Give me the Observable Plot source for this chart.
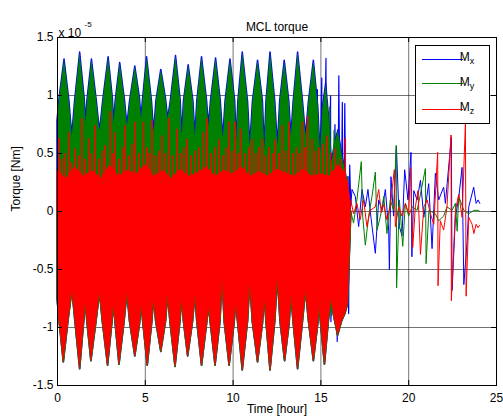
<!DOCTYPE html>
<html><head><meta charset="utf-8">
<script src="https://cdn.jsdelivr.net/npm/d3@7"></script>
<script src="https://cdn.jsdelivr.net/npm/@observablehq/plot@0.6"></script>
<style>
body{margin:0;background:#fff;font-family:"Liberation Sans",Arial,sans-serif;}
#wrap{position:relative;width:503px;height:420px;overflow:hidden;}
</style></head><body><div id="wrap"></div>
<script>
// ---- axis ticks (units of 1e-5 Nm for y) ----
const xTicks = [0, 5, 10, 15, 20, 25];
const yTicks = [-1.5, -1, -0.5, 0, 0.5, 1, 1.5];
const seriesNames = ["M", "M", "M"];
const seriesSubs = ["x", "y", "z"];
const seriesColors = ["#0000ff", "#008000", "#ff0000"];

// ---- dense part (0 - 16.7 h): envelopes ----
// upper envelope of My (green), blue shows just around it
const gTopX = [0.00,0.12,0.40,0.68,0.84,1.00,1.29,1.55,1.63,1.70,1.96,2.24,2.42,2.60,2.91,3.15,3.23,3.31,3.57,3.85,3.98,4.13,4.43,4.70,4.78,4.86,5.10,5.38,5.50,5.63,5.91,6.18,6.30,6.45,6.75,7.02,7.10,7.20,7.47,7.74,7.85,7.96,8.23,8.52,8.62,8.74,9.03,9.30,9.44,9.57,9.85,10.12,10.20,10.30,10.55,10.85,10.98,11.13,11.42,11.70,11.80,11.90,12.13,12.40,12.55,12.68,12.94,13.20,13.32,13.45,13.70,13.98,14.15,14.32,14.60,14.85,14.98,15.10,15.30,15.47,15.62,15.82,16.00,16.20,16.40,16.60,16.70];
const gTopY = [0.78,0.98,1.31,0.95,0.65,0.95,1.37,0.97,0.76,0.95,1.31,0.95,0.69,0.95,1.33,0.98,0.76,0.95,1.28,0.95,0.74,0.95,1.25,0.97,0.80,0.95,1.33,0.95,0.68,0.95,1.22,0.97,0.80,0.95,1.34,0.95,0.65,0.95,1.26,0.95,0.65,0.95,1.33,0.95,0.74,0.95,1.32,0.95,0.63,0.95,1.31,0.95,0.60,0.95,1.37,0.95,0.57,0.95,1.30,0.95,0.54,0.95,1.37,0.95,0.57,0.95,1.30,0.95,0.65,0.95,1.37,0.95,0.65,0.95,1.30,0.90,0.50,0.88,1.10,0.80,0.42,0.60,0.70,0.50,0.35,0.15,0.05];
// lower envelope of Mz (red)
const rBotX = [0.00,0.12,0.36,0.62,0.85,1.02,1.29,1.52,1.62,1.70,1.93,2.22,2.42,2.58,2.88,3.12,3.22,3.30,3.53,3.82,3.98,4.13,4.43,4.70,4.80,4.88,5.14,5.40,5.50,5.62,5.91,6.18,6.30,6.43,6.72,7.00,7.10,7.20,7.44,7.72,7.85,7.96,8.23,8.52,8.62,8.72,9.00,9.28,9.40,9.52,9.80,10.08,10.18,10.28,10.55,10.85,10.98,11.12,11.42,11.70,11.80,11.90,12.13,12.40,12.55,12.70,12.96,13.22,13.32,13.44,13.70,13.98,14.15,14.32,14.60,14.85,14.92,15.00,15.23,15.45,15.60,15.75,15.98,16.20,16.40,16.55,16.65,16.72];
const rBotY = [-0.75,-0.95,-1.30,-0.95,-0.68,-0.95,-1.36,-0.95,-0.78,-0.95,-1.29,-0.95,-0.70,-0.95,-1.33,-0.97,-0.80,-0.95,-1.32,-0.95,-0.70,-0.95,-1.25,-0.97,-0.80,-0.95,-1.33,-0.95,-0.75,-0.95,-1.21,-0.95,-0.72,-0.95,-1.34,-0.95,-0.75,-0.95,-1.25,-0.95,-0.72,-0.95,-1.33,-0.97,-0.82,-0.95,-1.33,-0.95,-0.57,-0.95,-1.33,-0.97,-0.80,-0.95,-1.37,-0.95,-0.61,-0.95,-1.30,-0.97,-0.74,-0.95,-1.37,-0.95,-0.57,-0.95,-1.29,-0.97,-0.72,-0.95,-1.36,-0.95,-0.68,-0.95,-1.29,-0.97,-0.80,-0.95,-1.32,-0.95,-0.75,-0.90,-1.07,-0.95,-0.88,-0.80,-0.35,-0.05];
// solid upper edge of Mz (red)
const rTopX = [0.0,0.5,1.0,1.5,2.0,2.5,3.0,3.5,4.0,4.5,5.0,5.5,6.0,6.5,7.0,7.5,8.0,8.5,9.0,9.5,10.0,10.5,11.0,11.5,12.0,12.5,13.0,13.5,14.0,14.5,15.0,15.5,16.0,16.3,16.55,16.7];
const rTopY = [0.35,0.28,0.38,0.30,0.35,0.28,0.40,0.30,0.35,0.32,0.40,0.30,0.35,0.28,0.36,0.30,0.33,0.38,0.30,0.35,0.32,0.38,0.30,0.34,0.30,0.36,0.33,0.30,0.36,0.30,0.32,0.30,0.40,0.35,0.25,0.05];
// Mz spikes above the solid part
const rSpikeX = [0.10,0.25,0.40,0.63,0.80,1.01,1.20,1.39,1.55,1.77,1.95,2.15,2.35,2.55,2.72,3.00,3.15,3.29,3.50,3.70,3.86,4.05,4.25,4.43,4.65,4.90,5.10,5.25,5.38,5.60,5.80,5.95,6.15,6.33,6.55,6.81,7.00,7.20,7.38,7.60,7.85,8.05,8.32,8.52,8.75,8.95,9.18,9.40,9.60,9.75,9.95,10.13,10.30,10.42,10.70,10.90,11.08,11.30,11.45,11.65,11.85,12.05,12.25,12.41,12.60,12.79,13.00,13.17,13.40,13.60,13.80,13.93,14.10,14.25,14.50,14.70,14.90,15.10,15.36,15.55,15.83,16.10,16.39];
const rSpikeY = [0.63,0.45,0.50,0.68,0.42,0.54,0.48,0.80,0.45,0.63,0.50,0.74,0.45,0.52,0.57,0.86,0.50,0.68,0.45,0.55,0.74,0.48,0.58,0.77,0.50,0.77,0.55,0.50,0.78,0.48,0.52,0.65,0.50,0.80,0.48,0.71,0.50,0.55,0.62,0.48,0.52,0.55,0.68,0.80,0.50,0.55,0.62,0.48,0.55,0.77,0.52,0.77,0.50,0.71,0.50,0.55,0.62,0.50,0.55,0.62,0.48,0.55,0.50,0.62,0.50,0.74,0.52,0.77,0.50,0.55,0.50,0.77,0.55,0.82,0.62,0.52,0.55,0.58,0.65,0.50,0.54,0.45,0.63];
// Mx (blue) where it breaks out of the bundle, 14.5 - 16.7 h
const bTrX = [14.55,14.57,14.80,14.82,15.05,15.07,15.29,15.31,15.55,15.57,15.80,15.93,16.02,16.12,16.22,16.27,16.36,16.45,16.55,16.58,16.64,16.70];
const bTrY = [0.90,-0.60,1.05,-0.90,1.15,-0.70,1.32,-0.85,1.00,-0.95,0.75,-1.12,1.17,-0.70,0.94,-0.84,0.93,-0.60,0.30,-0.88,0.40,0.05];
// My (green) in the transition
const gTrX = [15.50,15.60,15.75,15.90,16.05,16.15,16.30,16.42,16.52,16.62,16.70];
const gTrY = [0.90,-0.90,0.70,-0.80,0.55,-0.86,0.35,-0.68,0.30,-0.40,0.00];

// ---- sparse part (16.7 - 24 h) ----
const bSpX = [16.70,16.77,16.96,17.15,17.34,17.53,17.68,17.85,18.10,18.29,18.48,18.67,18.86,18.90,18.99,19.14,19.30,19.47,19.62,19.77,19.96,20.13,20.18,20.29,20.48,20.67,20.86,21.14,21.33,21.52,21.71,21.99,22.09,22.19,22.43,22.47,22.66,22.85,23.04,23.14,23.33,23.42,23.70,23.84,23.95,24.05];
const bSpY = [0.05,0.19,0.13,-0.13,0.19,0.04,0.19,-0.05,-0.36,0.10,0.01,0.19,-0.16,-0.50,0.30,-0.04,0.56,-0.13,-0.21,0.36,0.10,0.51,-0.39,0.18,0.10,0.27,-0.05,0.24,-0.32,0.33,0.10,0.21,0.07,0.24,0.64,-0.68,-0.05,0.12,0.38,-0.63,-0.25,0.04,0.21,0.07,0.10,0.07];
const gSpX = [16.70,16.86,17.05,17.30,17.38,17.53,17.72,17.91,18.10,18.20,18.39,18.58,18.76,18.95,19.14,19.29,19.31,19.47,19.66,19.81,20.00,20.19,20.48,20.67,20.95,20.99,21.15,21.52,21.71,21.99,22.18,22.47,22.66,22.76,22.85,23.14,23.42,23.70,23.95,24.05];
const gSpY = [0.00,-0.10,0.10,0.43,-0.04,-0.29,-0.04,0.13,0.34,-0.16,-0.04,0.13,-0.19,0.10,0.01,0.57,-0.66,0.10,-0.30,0.07,-0.04,0.04,0.01,0.15,0.37,-0.45,0.01,-0.02,-0.08,-0.04,0.04,0.01,0.07,-0.17,0.13,0.01,-0.02,0.01,0.01,0.00];
const rSpX = [16.70,16.86,17.05,17.24,17.43,17.62,17.81,18.10,18.29,18.44,18.58,18.76,18.95,19.18,19.24,19.43,19.62,19.81,20.00,20.10,20.23,20.38,20.53,20.67,20.86,21.05,21.24,21.43,21.65,21.67,21.80,21.99,22.18,22.41,22.43,22.66,22.85,23.04,23.23,23.27,23.42,23.61,23.71,23.84,23.95,24.03];
const rSpY = [0.10,-0.02,0.07,-0.07,0.10,-0.13,0.01,0.04,0.19,-0.01,0.06,-0.07,0.04,0.36,-0.13,0.04,-0.04,0.07,-0.02,0.38,-0.31,0.04,0.18,-0.37,0.04,0.10,-0.02,-0.11,0.51,-0.64,-0.08,-0.16,0.04,0.66,-0.77,0.01,0.15,-0.05,0.76,-0.73,-0.05,-0.11,-0.19,-0.11,-0.14,-0.12];

// ---- build tables ----
const zipXY = (xs, ys) => xs.map((x, i) => ({x, y: ys[i]}));
const gTop = zipXY(gTopX, gTopY), rBot = zipXY(rBotX, rBotY), rTop = zipXY(rTopX, rTopY);
const rSpike = zipXY(rSpikeX, rSpikeY), bTr = zipXY(bTrX, bTrY), gTr = zipXY(gTrX, gTrY);
const bSp = zipXY(bSpX, bSpY), gSp = zipXY(gSpX, gSpY), rSp = zipXY(rSpX, rSpY);
const [B, G, R] = seriesColors;
const fmt = d => String(d);

const chart = Plot.plot({
  width: 503, height: 420,
  marginLeft: 57, marginRight: 7, marginTop: 37, marginBottom: 35,
  style: {fontFamily: "'Liberation Sans', Arial, sans-serif", fontSize: "12px", background: "#fff", color: "#000"},
  x: {domain: [0, 25]},
  y: {domain: [-1.5, 1.5]},
  marks: [
    Plot.gridX(xTicks, {stroke: "#000", strokeOpacity: 0.55}),
    Plot.gridY(yTicks, {stroke: "#000", strokeOpacity: 0.55}),
    // Mx (blue) halo of the bundle
    Plot.areaY(gTop, {x: "x", y1: 0, y2: "y", fill: B, stroke: B, strokeWidth: 1.5}),
    Plot.areaY(rBot, {x: "x", y1: 0, y2: "y", fill: B, stroke: B, strokeWidth: 1.6}),
    Plot.line(bTr, {x: "x", y: "y", stroke: B, strokeWidth: 1.2}),
    Plot.line(bSp, {x: "x", y: "y", stroke: B, strokeWidth: 1}),
    // My (green)
    Plot.areaY(gTop, {x: "x", y1: 0, y2: "y", fill: G}),
    Plot.areaY(rBot, {x: "x", y1: 0, y2: "y", fill: G, stroke: G, strokeWidth: 1.6}),
    Plot.line(gTr, {x: "x", y: "y", stroke: G, strokeWidth: 1.2}),
    Plot.line(gSp, {x: "x", y: "y", stroke: G, strokeWidth: 1}),
    // Mz (red)
    Plot.areaY(rTop, {x: "x", y1: 0, y2: "y", fill: R, stroke: R, strokeWidth: 1}),
    Plot.areaY(rBot, {x: "x", y1: 0, y2: "y", fill: R, stroke: R, strokeWidth: 0.6}),
    Plot.ruleX(rSpike, {x: "x", y1: 0, y2: "y", stroke: R, strokeWidth: 1.5}),
    Plot.line(rSp, {x: "x", y: "y", stroke: R, strokeWidth: 1}),
    // inward ticks on all four sides
    Plot.ruleX(xTicks, {stroke: "#000", insetTop: 343}),
    Plot.ruleX(xTicks, {stroke: "#000", insetBottom: 343}),
    Plot.ruleY(yTicks, {stroke: "#000", insetRight: 434}),
    Plot.ruleY(yTicks, {stroke: "#000", insetLeft: 434}),
    Plot.frame({stroke: "#000"}),
    Plot.axisX(xTicks, {anchor: "bottom", tickSize: 0, tickPadding: 8, tickFormat: fmt, label: null}),
    Plot.axisY(yTicks, {anchor: "left", tickSize: 0, tickPadding: 4, tickFormat: fmt, label: null}),
    Plot.text(["MCL torque"], {frameAnchor: "top", dy: -15, fontSize: 12}),
    Plot.text(["Time [hour]"], {frameAnchor: "bottom", dy: 27, fontSize: 12}),
    Plot.text(["Torque [Nm]"], {frameAnchor: "left", dx: -41, rotate: -90, fontSize: 12}),
    Plot.text(["x 10"], {frameAnchor: "top-left", textAnchor: "start", dx: 1, dy: -9, fontSize: 12}),
    Plot.text(["-5"], {frameAnchor: "top-left", textAnchor: "start", dx: 27, dy: -16.5, fontSize: 8})
  ]
});
document.getElementById("wrap").appendChild(chart);

// legend box inside the axes (upper right), drawn into the chart's SVG
const svg = d3.select(chart);
const lg = svg.append("g").attr("font-family", "'Liberation Sans', Arial, sans-serif").attr("font-size", 12);
lg.append("rect").attr("x", 415.5).attr("y", 45.5).attr("width", 74).attr("height", 78)
  .attr("fill", "#fff").attr("stroke", "#000");
const rowY = [59.5, 83.5, 109.5], baseY = [61, 85.5, 111];
seriesNames.forEach((n, i) => {
  lg.append("line").attr("x1", 422).attr("x2", 463).attr("y1", rowY[i]).attr("y2", rowY[i])
    .attr("stroke", seriesColors[i]).attr("stroke-width", 1);
  const t = lg.append("text").attr("x", 467).attr("y", baseY[i]).attr("fill", "#000").text(n);
  t.append("tspan").attr("dy", 3).attr("font-size", 9).text(seriesSubs[i]);
});
</script></body></html>
